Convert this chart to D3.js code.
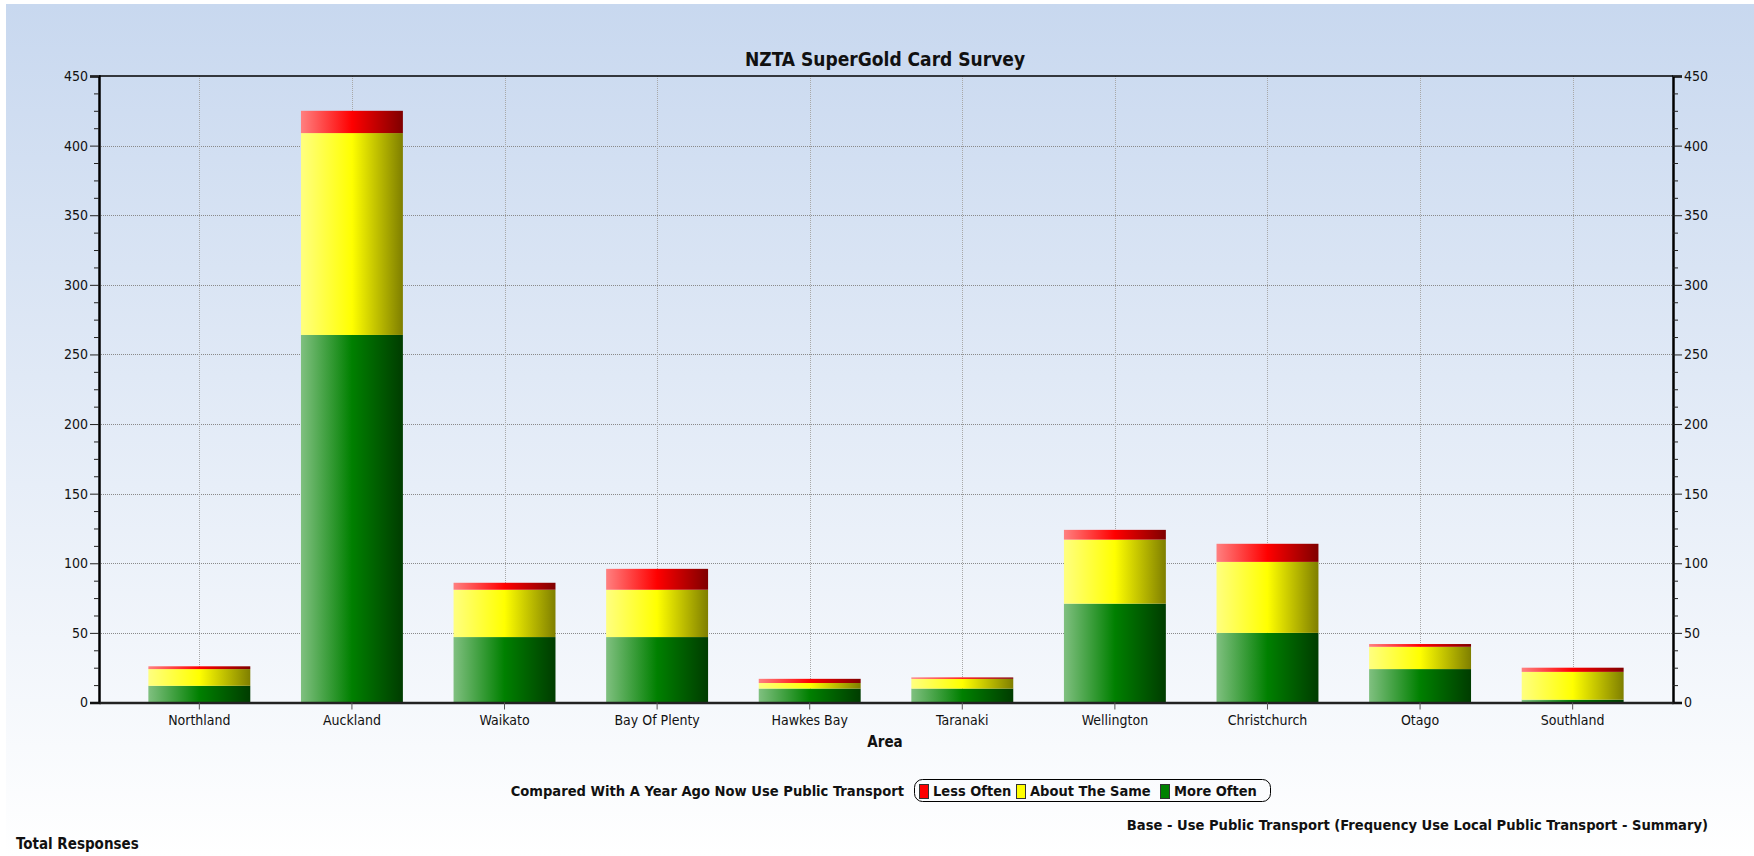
<!DOCTYPE html>
<html>
<head>
<meta charset="utf-8">
<script src="https://d3js.org/d3.v7.min.js"></script>
<style>
    body { margin: 0; background: #fff; }
    svg text { font-family: "DejaVu Sans Condensed", "DejaVu Sans", sans-serif; fill: #111; }
</style>
</head>
<body>
<div id="chart"></div>
<script>
var areas = ["Northland", "Auckland", "Waikato", "Bay Of Plenty", "Hawkes Bay",
             "Taranaki", "Wellington", "Christchurch", "Otago", "Southland"];
var moreOften  = [12, 264, 47, 47, 10, 10, 71, 50, 24, 2];
var aboutSame  = [12, 145, 34, 34, 4, 7, 46, 51, 16, 20];
var lessOften  = [2, 16, 5, 15, 3, 1, 7, 13, 2, 3];
var seriesNames = ["More Often", "About The Same", "Less Often"];
var yTicks = [0, 50, 100, 150, 200, 250, 300, 350, 400, 450];

var width = 1754, height = 856;
var plotLeft = 99, plotRight = 1673, plotTop = 76, plotBottom = 702.5;

var svg = d3.select("#chart")
    .append("svg")
    .attr("width", width)
    .attr("height", height);

var defs = svg.append("defs");

//page background, blue at the top fading to white
var bg = defs.append("linearGradient")
    .attr("id", "bg")
    .attr("x1", 0).attr("y1", 0).attr("x2", 0).attr("y2", 1);
bg.append("stop").attr("offset", "0%").attr("stop-color", "#c8d8ef");
bg.append("stop").attr("offset", "100%").attr("stop-color", "#ffffff");

svg.append("rect")
    .attr("x", 6).attr("y", 4)
    .attr("width", width - 6).attr("height", height - 4)
    .attr("fill", "url(#bg)");

//bar gradients: light left, pure middle, dark right
var barColours = [
    { id: "g-more", light: "#80c080", mid: "#008000", dark: "#003c00" },
    { id: "g-same", light: "#ffff80", mid: "#ffff00", dark: "#7f7f00" },
    { id: "g-less", light: "#ff8080", mid: "#ff0000", dark: "#7f0000" }
];
barColours.forEach(function(c) {
    var g = defs.append("linearGradient")
        .attr("id", c.id)
        .attr("x1", 0).attr("y1", 0).attr("x2", 1).attr("y2", 0);
    g.append("stop").attr("offset", "0%").attr("stop-color", c.light);
    g.append("stop").attr("offset", "50%").attr("stop-color", c.mid);
    g.append("stop").attr("offset", "100%").attr("stop-color", c.dark);
});

var x = d3.scaleBand()
    .domain(areas)
    .range([plotLeft, plotRight])
    .paddingInner(0.332)
    .paddingOuter(0.3235);

var y = d3.scaleLinear()
    .domain([0, 450])
    .range([plotBottom, plotTop]);

//grid lines
svg.append("g")
    .selectAll("line")
    .data(yTicks.filter(function(d) { return d > 0 && d < 450; }))
    .enter()
    .append("line")
    .attr("x1", plotLeft).attr("x2", plotRight)
    .attr("y1", function(d) { return Math.round(y(d)) + 0.5; })
    .attr("y2", function(d) { return Math.round(y(d)) + 0.5; })
    .attr("stroke", "#8a8a8a")
    .attr("stroke-dasharray", "1,1");

svg.append("g")
    .selectAll("line")
    .data(areas)
    .enter()
    .append("line")
    .attr("x1", function(d) { return Math.round(x(d) + x.bandwidth() / 2) + 0.5; })
    .attr("x2", function(d) { return Math.round(x(d) + x.bandwidth() / 2) + 0.5; })
    .attr("y1", plotTop).attr("y2", plotBottom)
    .attr("stroke", "#a8a8a8")
    .attr("stroke-dasharray", "1,1");

//stacked bars
var rows = areas.map(function(a, i) {
    return { area: a, "More Often": moreOften[i], "About The Same": aboutSame[i], "Less Often": lessOften[i] };
});
var stacked = d3.stack().keys(seriesNames)(rows);
var fillIds = { "More Often": "g-more", "About The Same": "g-same", "Less Often": "g-less" };

svg.append("g")
    .selectAll("g")
    .data(stacked)
    .enter()
    .append("g")
    .attr("fill", function(s) { return "url(#" + fillIds[s.key] + ")"; })
    .selectAll("rect")
    .data(function(s) { return s; })
    .enter()
    .append("rect")
    .attr("x", function(d) { return x(d.data.area); })
    .attr("width", x.bandwidth())
    .attr("y", function(d) { return y(d[1]); })
    .attr("height", function(d) { return y(d[0]) - y(d[1]); });

//top border
svg.append("line")
    .attr("x1", plotLeft).attr("x2", plotRight)
    .attr("y1", plotTop).attr("y2", plotTop)
    .attr("stroke", "#000").attr("stroke-width", 1.5);

//left and right axes
var leftAxis = d3.axisLeft(y).tickValues(yTicks).tickSize(9).tickPadding(2);
var rightAxis = d3.axisRight(y).tickValues(yTicks).tickSize(9).tickPadding(2);

function styleAxis(g) {
    g.select(".domain").attr("stroke", "#000").attr("stroke-width", 2.5);
    g.selectAll(".tick line").attr("stroke", "#222");
    g.selectAll(".tick text")
        .style("font-size", "14px")
        .attr("fill", "#111");
}

svg.append("g")
    .attr("transform", "translate(" + plotLeft + ",0)")
    .call(leftAxis)
    .call(styleAxis);

svg.append("g")
    .attr("transform", "translate(" + plotRight + ",0)")
    .call(rightAxis)
    .call(styleAxis);

//minor ticks every 12.5
var minor = d3.range(0, 450, 12.5).filter(function(d) { return d % 50 !== 0; });
svg.append("g")
    .attr("transform", "translate(" + plotLeft + ",0)")
    .call(d3.axisLeft(y).tickValues(minor).tickSize(5).tickFormat(""))
    .call(function(g) { g.select(".domain").remove(); g.selectAll("line").attr("stroke", "#222"); });
svg.append("g")
    .attr("transform", "translate(" + plotRight + ",0)")
    .call(d3.axisRight(y).tickValues(minor).tickSize(5).tickFormat(""))
    .call(function(g) { g.select(".domain").remove(); g.selectAll("line").attr("stroke", "#222"); });

//bottom axis
var xAxis = svg.append("g")
    .attr("transform", "translate(0," + plotBottom + ")")
    .call(d3.axisBottom(x).tickSize(7).tickSizeOuter(0).tickPadding(6));
xAxis.select(".domain").attr("stroke", "#222").attr("stroke-width", 2.5);
xAxis.selectAll(".tick line").attr("stroke", "#555");
xAxis.selectAll(".tick text").style("font-size", "14px").attr("fill", "#111");

//titles
svg.append("text")
    .text("NZTA SuperGold Card Survey")
    .attr("x", 885).attr("y", 66)
    .attr("text-anchor", "middle")
    .style("font-size", "19px")
    .style("font-weight", "bold");

svg.append("text")
    .text("Area")
    .attr("x", 885).attr("y", 747)
    .attr("text-anchor", "middle")
    .style("font-size", "15px")
    .style("font-weight", "bold");

//legend
var legendLabels = ["Less Often", "About The Same", "More Often"];
var legendFills = ["#ff0000", "#ffff00", "#008000"];
var legendX = [919, 1016, 1160];

svg.append("text")
    .text("Compared With A Year Ago Now Use Public Transport")
    .attr("x", 904).attr("y", 796)
    .attr("text-anchor", "end")
    .style("font-size", "14.6px")
    .style("font-weight", "bold");

svg.append("rect")
    .attr("x", 914.5).attr("y", 779.5)
    .attr("width", 356).attr("height", 22)
    .attr("rx", 8)
    .attr("fill", "none")
    .attr("stroke", "#000");

var item = svg.append("g")
    .selectAll("g")
    .data(legendLabels)
    .enter()
    .append("g")
    .attr("transform", function(d, i) { return "translate(" + legendX[i] + ",0)"; });

item.append("rect")
    .attr("x", 0.5).attr("y", 784.5)
    .attr("width", 9).attr("height", 14)
    .attr("fill", function(d, i) { return legendFills[i]; })
    .attr("stroke", "#333");

item.append("text")
    .text(function(d) { return d; })
    .attr("x", 14).attr("y", 796)
    .style("font-size", "14.5px")
    .style("font-weight", "bold");

svg.append("text")
    .text("Base - Use Public Transport (Frequency Use Local Public Transport - Summary)")
    .attr("x", 1708).attr("y", 830)
    .attr("text-anchor", "end")
    .style("font-size", "14.6px")
    .style("font-weight", "bold");

svg.append("text")
    .text("Total Responses")
    .attr("x", 16).attr("y", 849)
    .style("font-size", "15px")
    .style("font-weight", "bold");
</script>
</body>
</html>
